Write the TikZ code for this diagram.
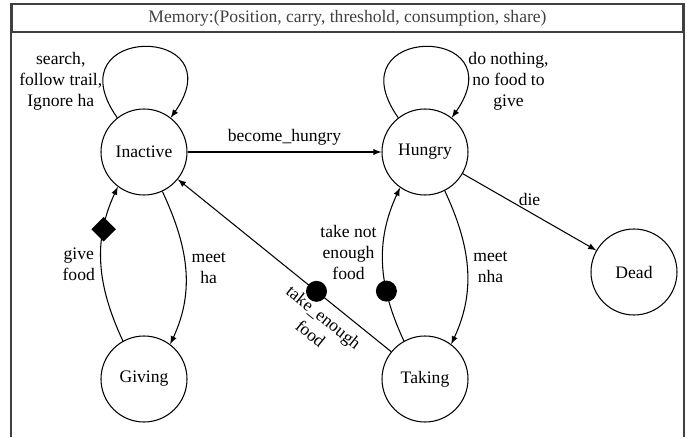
\documentclass[tikz,border=0pt]{standalone}
\usepackage{fontspec}
\setmainfont{Liberation Serif}
\usetikzlibrary{positioning,shapes,arrows}

\tikzset{
  mstate/.style={circle, draw, line width=0.6pt, minimum size=1.72cm, inner sep=0pt},
  trans/.style={-latex, line width=0.6pt},
  dotmark/.style={circle, fill, minimum size=0.42cm, inner sep=0pt},
  diamondmark/.style={diamond, fill, minimum size=0.5cm, inner sep=0pt},
  frameline/.style={line width=0.9pt, black!75}
}

\begin{document}
\begin{tikzpicture}[every node/.style={align=center}]
    \useasboundingbox (0,0) rectangle (13.74,8.74);
    % frame
    \node[draw, frameline, minimum width=13.42cm, minimum height=0.56cm] (memory) at (6.95,8.38)
        {Memory:(Position, carry, threshold, consumption, share)};
    \draw[frameline] (memory.north west) -- (memory.north west |- 0,0);
    \draw[frameline] (memory.north east) -- (memory.north east |- 0,0);
    % states
    \node[mstate] (Inactive) at (2.88,5.70) {Inactive};
    \node[mstate] (Hungry) at (8.50,5.70) {Hungry};
    \node[mstate] (Giving) at (2.88,1.16) {Giving};
    \node[mstate] (Taking) at (8.50,1.16) {Taking};
    \node[mstate] (Dead) at (12.68,3.30) {Dead};
    % loops
    \draw[trans] (Inactive.128) to[out=125,in=55,distance=2.3cm]
        node[pos=0.15, left, inner sep=0pt] {search,\\follow trail,\\Ignore ha} (Inactive.52);
    \draw[trans] (Hungry.128) to[out=125,in=55,distance=2.3cm]
        node[pos=0.85, right, inner sep=1pt] {do nothing,\\no food to\\give} (Hungry.52);
    % straight transitions
    \draw[trans] (Inactive) -- node[above] {become\_hungry} (Hungry);
    \draw[trans] (Hungry) -- node[above] {die} (Dead);
    \draw[trans] (Taking) -- node[pos=0.35, dotmark] {}
        node[pos=0.27, sloped, below, inner sep=5pt] {take\_enough\\food} (Inactive);
    % curved transitions
    \draw[trans] (Inactive.-65) to[out=-65,in=65] node[right] {meet\\ha} (Giving.53);
    \draw[trans] (Giving.119) to[out=115,in=-115] node[pos=0.73, diamondmark] {}
        node[pos=0.5, left] {give\\food} (Inactive.233);
    \draw[trans] (Hungry.-63) to[out=-65,in=65] node[right] {meet\\nha} (Taking.53);
    \draw[trans] (Taking.119) to[out=115,in=-115] node[pos=0.32, dotmark] {}
        node[pos=0.58, left] {take not\\enough\\food} (Hungry.235);
\end{tikzpicture}
\end{document}
